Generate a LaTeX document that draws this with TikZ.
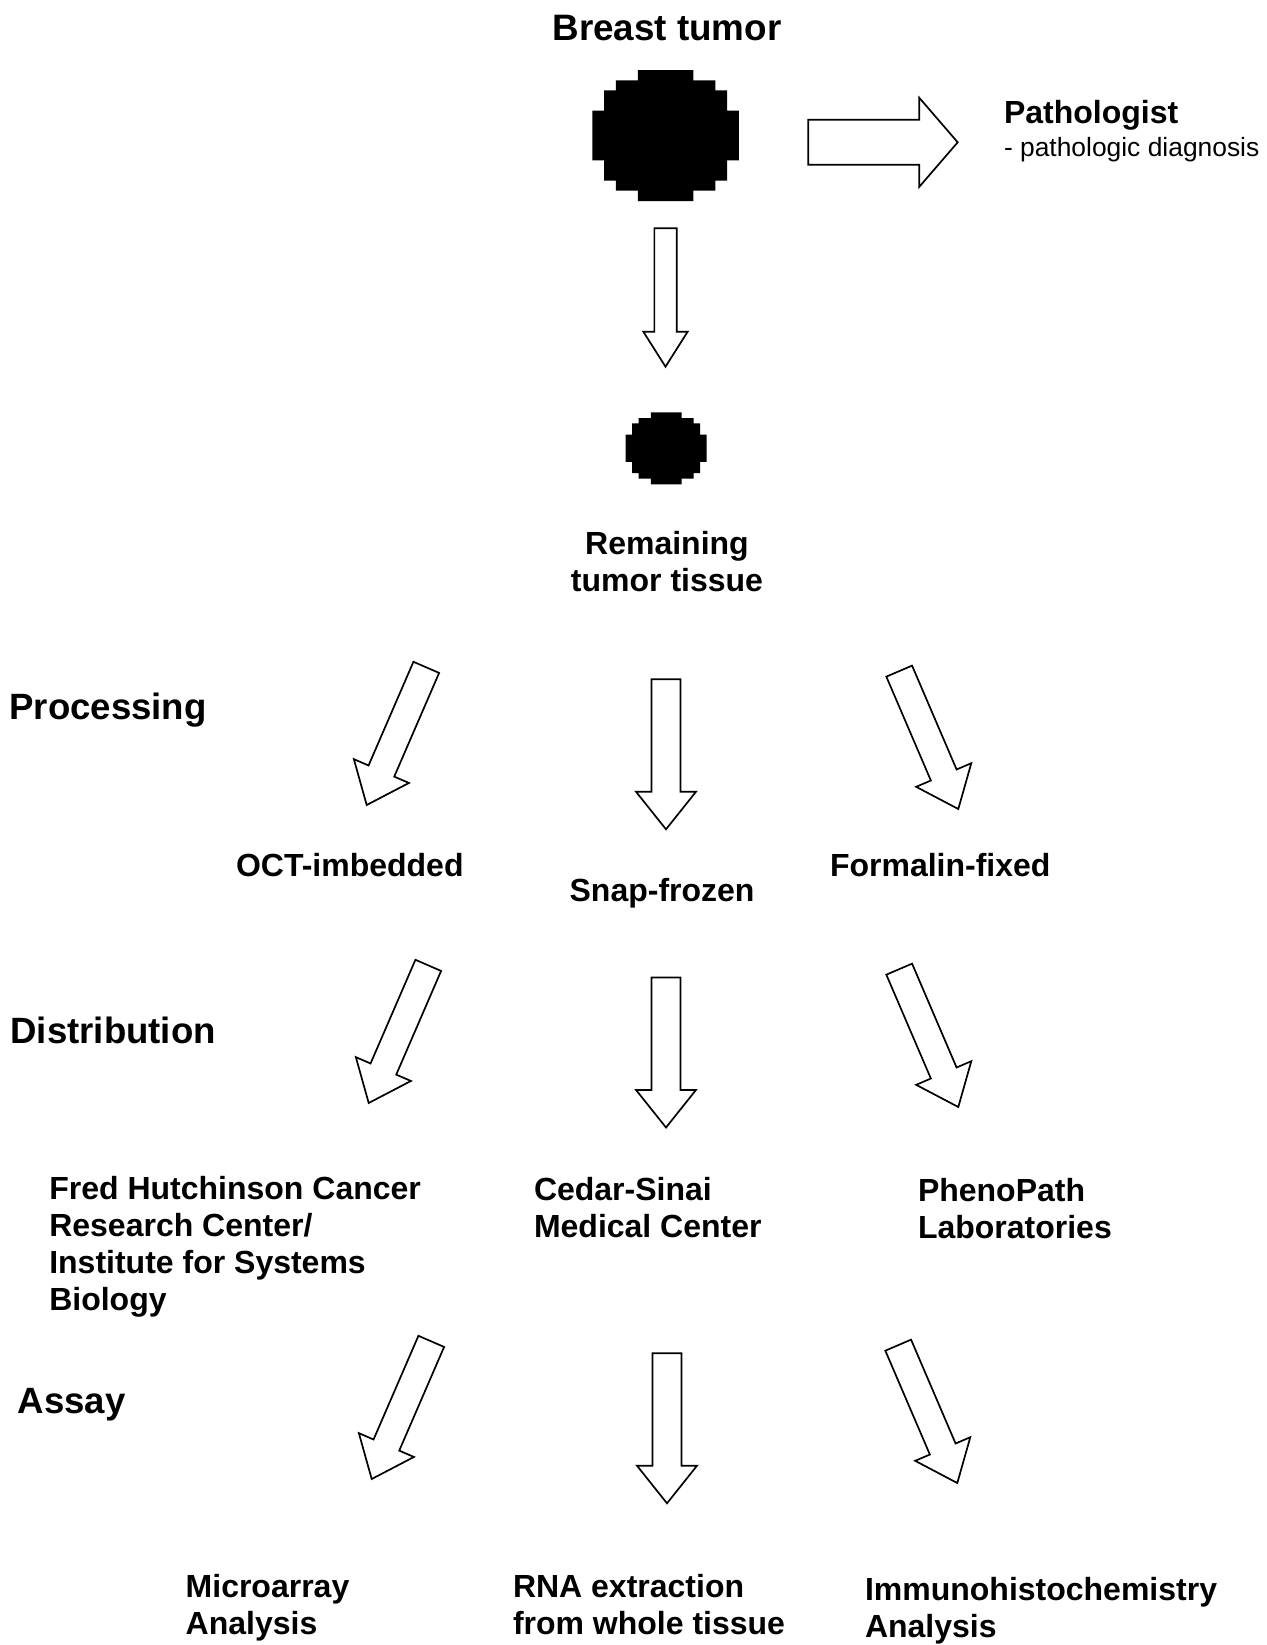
\documentclass[tikz,border=0pt]{standalone}
\usepackage{fontspec}
\setmainfont{Liberation Sans}
\usetikzlibrary{positioning}
\tikzset{
    every node/.style={inner sep=0pt, outer sep=0pt},
    title/.style={
                font=\bfseries\fontsize{18.4}{21}\selectfont
            },
        phase/.style={
                anchor=west,
                font=\bfseries\fontsize{18.3}{21}\selectfont
            },
        entry/.style={
                anchor=west,
                align=left,
                font=\bfseries\fontsize{16}{18.5}\selectfont
            },
        note/.style={
                font=\fontsize{13.2}{15}\selectfont
            },
        arrowline/.style={
                draw=black,
                fill=white,
                line width=0.85pt,
                line join=miter
            },
        % block arrow, origin at the tip: length, shaft, head width, head length
        pics/blockarrow/.style n args={4}{code={
                \path[arrowline] (0,0) -- (-#4,#3/2) -- (-#4,#2/2) -- (-#1,#2/2)
                    -- (-#1,-#2/2) -- (-#4,-#2/2) -- (-#4,-#3/2) -- cycle;
            }},
        % pixelated tumor, unit size
        pics/tumor/.style={code={
                \fill[black] (-0.38,-1) -- (0.38,-1) -- (0.38,-0.84) -- (0.68,-0.84)
                    -- (0.68,-0.69) -- (0.84,-0.69) -- (0.84,-0.38) -- (1,-0.38)
                    -- (1,0.38) -- (0.84,0.38) -- (0.84,0.69) -- (0.68,0.69)
                    -- (0.68,0.84) -- (0.38,0.84) -- (0.38,1) -- (-0.38,1)
                    -- (-0.38,0.84) -- (-0.68,0.84) -- (-0.68,0.69) -- (-0.84,0.69)
                    -- (-0.84,0.38) -- (-1,0.38) -- (-1,-0.38) -- (-0.84,-0.38)
                    -- (-0.84,-0.69) -- (-0.68,-0.69) -- (-0.68,-0.84) -- (-0.38,-0.84) -- cycle;
            }}
}
\begin{document}
\begin{tikzpicture}[x=0.5pt, y=-0.5pt]
  \useasboundingbox (0,0) rectangle (1266,1645);
  % Tumor
  \node[title] (tumor) at (667,28) {Breast tumor};
  \pic[xscale=73.3, yscale=65.5] at (665.6,135.5) {tumor};
  \pic at (957.7,142.3) {blockarrow={149.4}{45}{89}{38.4}};
  \node[entry] (pathologist) at (1004,115) {Pathologist};
  \node[note, below=3.5pt of pathologist.south west, anchor=north west] (diagnosis) {- pathologic diagnosis};
  % Remaining tissue
  \pic[rotate=-90] at (665.5,366.7) {blockarrow={138.4}{22.3}{44.3}{35}};
  \pic[xscale=40.5, yscale=36] at (666.2,448.3) {tumor};
  \node[entry, align=center, anchor=center] (remaining) at (667,561.5) {Remaining\\tumor tissue};
  % Processing
  \node[phase] (processing) at (9.4,710) {Processing};
  \pic[rotate=-113.4] at (366.7,805) {blockarrow={150}{28}{60}{37}};
  \pic[rotate=-90] at (666,829.3) {blockarrow={150}{29}{60}{37.6}};
  \pic[rotate=-66.8] at (958.3,809) {blockarrow={150}{28}{60}{37}};
  \node[entry] (oct) at (236,865) {OCT-imbedded};
  \node[entry] (snap) at (569.6,893.5) {Snap-frozen};
  \node[entry] (formalin) at (830,865) {Formalin-fixed};
  % Distribution
  \node[phase] (distribution) at (10.5,1030) {Distribution};
  \pic[rotate=-113.4] at (368.7,1103) {blockarrow={150}{28}{60}{37}};
  \pic[rotate=-90] at (666,1127.5) {blockarrow={150}{29}{60}{37.6}};
  \pic[rotate=-66.8] at (958.3,1107) {blockarrow={150}{28}{60}{37}};
  \node[entry] (fhcrc) at (49.3,1247) {Fred Hutchinson Cancer\\Research Center/\\Institute for Systems\\Biology};
  \node[entry] (cedars) at (534,1207.5) {Cedar-Sinai\\Medical Center};
  \node[entry] (phenopath) at (918,1209) {PhenoPath\\Laboratories};
  % Assay
  \node[phase] (assay) at (17.8,1405) {Assay};
  \pic[rotate=-113.4] at (371.7,1479) {blockarrow={150}{28}{60}{37}};
  \pic[rotate=-90] at (667,1503.3) {blockarrow={150}{29}{60}{37.6}};
  \pic[rotate=-66.8] at (957.3,1483) {blockarrow={150}{28}{60}{37}};
  \node[entry] (microarray) at (185.7,1607.5) {Microarray\\Analysis};
  \node[entry] (rna) at (513,1605) {RNA extraction\\from whole tissue};
  \node[entry] (ihc) at (865,1611) {Immunohistochemistry\\Analysis};
\end{tikzpicture}
\end{document}
